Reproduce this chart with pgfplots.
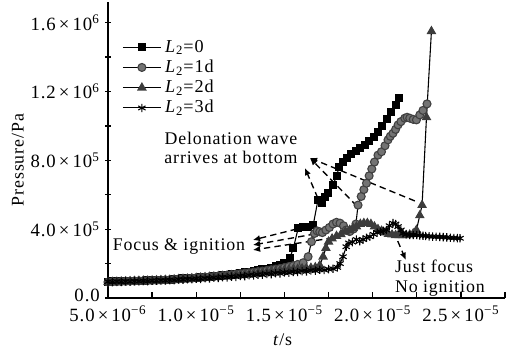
\documentclass[border=0pt]{standalone}
\usepackage{fontspec}
\setmainfont{Liberation Serif}[LetterSpace=5]
\usepackage{pgfplots}
\pgfplotsset{compat=1.18}
\usetikzlibrary{arrows.meta}
\definecolor{circfill}{RGB}{115,115,115}
\definecolor{trifill}{RGB}{60,60,60}
\begin{document}
\begin{tikzpicture}[font=\fontsize{9.8}{10.5}\selectfont]
\begin{axis}[
  name=ax,
  scale only axis, width=218.35pt, height=162.8pt,
  xmin=5, xmax=27.5, ymin=0, ymax=17.2,
  clip=false,
  axis x line=bottom, axis y line=left,
  axis line style={-, line width=0.8pt},
  every axis x label/.style={at={(axis description cs:0.44,-0.142)}, anchor=center},
  every axis y label/.style={at={(axis description cs:-0.227,0.466)}, anchor=center, rotate=90},
  xlabel={\textit{t}/s},
  ylabel={Pressure/Pa},
  xtick={5,10,15,20,25}, minor xtick={7.5,12.5,17.5,22.5,27.5},
  xticklabels={5.0\,×\,10\textsuperscript{−6}, 1.0\,×\,10\textsuperscript{−5}, 1.5\,×\,10\textsuperscript{−5}, 2.0\,×\,10\textsuperscript{−5}, 2.5\,×\,10\textsuperscript{−5}},
  ytick={0,4,8,12,16}, minor ytick={2,6,10,14},
  yticklabels={\raisebox{2.5pt}{0.0}, 4.0\,×\,10\textsuperscript{5}, 8.0\,×\,10\textsuperscript{5}, 1.2\,×\,10\textsuperscript{6}, 1.6\,×\,10\textsuperscript{6}},
  tick align=inside,
  major tick length=3.2pt, minor tick length=3.2pt,
  tick style={black, line width=0.7pt},
  y tick style={xshift=-1.6pt},
  tick label style={font=\fontsize{10.3}{11}\selectfont},
  xticklabel style={yshift=-1pt},
  yticklabel style={xshift=-1pt},
  legend style={at={(0.035,0.885)}, anchor=north west, draw=none, fill=none, inner sep=0pt, row sep=-1.3pt, font=\fontsize{10}{10.5}\selectfont},
  legend cell align=left,
  legend image code/.code={\draw[mark repeat=2,mark phase=2,#1] plot coordinates {(0pt,0pt)(10.5pt,0pt)(21pt,0pt)};},
]
\addplot[black, line width=0.6pt, mark=square*, mark size=1.9pt, mark options={solid, fill=black}] coordinates {
(5.0,0.95)(5.25,0.96)(5.5,0.96)(5.75,0.97)(6.0,0.98)(6.25,0.99)(6.5,1.0)(6.75,1.0)(7.0,1.01)(7.25,1.02)(7.5,1.03)(7.75,1.04)(8.0,1.05)(8.25,1.06)(8.5,1.07)(8.75,1.09)(9.0,1.12)(9.25,1.14)(9.5,1.15)(9.75,1.16)(10.0,1.18)(10.25,1.2)(10.5,1.22)(10.75,1.24)(11.0,1.26)(11.25,1.28)(11.5,1.31)(11.75,1.34)(12.0,1.37)(12.25,1.41)(12.5,1.45)(12.75,1.49)(13.0,1.53)(13.25,1.57)(13.5,1.61)(13.75,1.66)(14.0,1.71)(14.25,1.77)(14.5,1.84)(14.75,1.92)(15.0,2.02)(15.3,2.31)(15.5,2.89)(15.78,4.05)(16.05,4.12)(16.33,4.15)(16.63,4.24)(16.9,5.7)(17.1,5.5)(17.3,5.85)(17.48,6.09)(17.76,6.57)(17.95,7.1)(18.1,7.6)(18.3,7.9)(18.55,8.15)(18.8,8.35)(19.05,8.55)(19.3,8.7)(19.55,8.9)(19.8,9.1)(20.05,9.35)(20.3,9.65)(20.55,10.0)(20.8,10.4)(21.05,10.8)(21.3,11.2)(21.5,11.6)
};
\addlegendentry{\textit{L}\textsubscript{2}=0}
\addplot[black, line width=0.6pt, mark=*, mark size=2.2pt, mark options={solid, fill=circfill, draw=black!75}] coordinates {
(5.0,0.93)(5.25,0.94)(5.5,0.95)(5.75,0.96)(6.0,0.97)(6.25,0.98)(6.5,0.99)(6.75,1.0)(7.0,1.0)(7.25,1.01)(7.5,1.02)(7.75,1.03)(8.0,1.04)(8.25,1.05)(8.5,1.06)(8.75,1.08)(9.0,1.1)(9.25,1.12)(9.5,1.13)(9.75,1.15)(10.0,1.17)(10.25,1.19)(10.5,1.21)(10.75,1.23)(11.0,1.25)(11.25,1.27)(11.5,1.3)(11.75,1.32)(12.0,1.35)(12.25,1.38)(12.5,1.41)(12.75,1.44)(13.0,1.47)(13.25,1.5)(13.5,1.53)(13.75,1.56)(14.0,1.6)(14.25,1.64)(14.5,1.68)(14.75,1.72)(15.0,1.77)(15.25,1.83)(15.5,1.88)(15.75,1.95)(16.06,2.05)(16.34,2.4)(16.53,3.27)(16.7,3.75)(16.85,3.9)(17.0,3.85)(17.15,3.8)(17.35,3.95)(17.55,4.1)(17.75,4.3)(17.95,4.4)(18.15,4.35)(18.35,4.2)(18.5,3.95)(18.7,3.86)(18.9,4.0)(19.05,4.3)(19.17,5.4)(19.35,5.9)(19.5,6.3)(19.65,6.67)(19.8,7.1)(19.95,7.5)(20.1,7.9)(20.3,8.3)(20.5,8.5)(20.7,8.85)(20.87,9.19)(21.0,9.4)(21.15,9.57)(21.3,9.8)(21.44,10.06)(21.6,10.25)(21.82,10.45)(21.95,10.5)(22.1,10.45)(22.3,10.38)(22.48,10.35)(22.67,10.64)(22.85,10.9)(23.08,11.28)
};
\addlegendentry{\textit{L}\textsubscript{2}=1d}
\addplot[black, line width=0.6pt, mark=triangle*, mark size=2.5pt, mark options={solid, fill=trifill, draw=trifill}] coordinates {
(5.0,0.92)(5.25,0.93)(5.5,0.94)(5.75,0.95)(6.0,0.96)(6.25,0.97)(6.5,0.98)(6.75,0.99)(7.0,1.0)(7.25,1.0)(7.5,1.01)(7.75,1.02)(8.0,1.03)(8.25,1.04)(8.5,1.05)(8.75,1.07)(9.0,1.09)(9.25,1.11)(9.5,1.12)(9.75,1.14)(10.0,1.16)(10.25,1.18)(10.5,1.2)(10.75,1.22)(11.0,1.24)(11.25,1.26)(11.5,1.28)(11.75,1.3)(12.0,1.32)(12.25,1.34)(12.5,1.36)(12.75,1.38)(13.0,1.4)(13.25,1.42)(13.5,1.45)(13.75,1.48)(14.0,1.51)(14.25,1.54)(14.5,1.57)(14.75,1.6)(15.0,1.63)(15.25,1.65)(15.5,1.67)(15.75,1.69)(16.0,1.71)(16.25,1.73)(16.5,1.75)(16.75,1.78)(17.0,1.9)(17.19,2.4)(17.35,2.9)(17.5,3.27)(17.7,3.45)(17.95,3.6)(18.2,3.7)(18.45,3.85)(18.7,3.95)(18.9,4.05)(19.08,4.15)(19.3,4.3)(19.5,4.35)(19.7,4.35)(19.9,4.3)(20.1,4.15)(20.3,4.0)(20.5,3.9)(20.7,3.8)(20.9,3.72)(21.1,3.68)(21.3,3.65)(21.5,3.65)(21.7,3.65)(21.9,3.65)(22.1,3.68)(22.3,3.75)(22.48,3.95)(22.67,4.8)(22.8,5.4)(23.05,10.5)(23.33,15.5)
};
\addlegendentry{\textit{L}\textsubscript{2}=2d}
\addplot[black, line width=0.6pt, mark=asterisk, mark size=2.3pt, mark options={solid, line width=0.6pt}] coordinates {
(5.0,0.95)(5.25,0.93)(5.5,0.96)(5.75,0.94)(6.0,0.97)(6.25,0.95)(6.5,0.98)(6.75,0.97)(7.0,1.0)(7.25,0.98)(7.5,1.01)(7.75,1.0)(8.0,1.03)(8.25,1.02)(8.5,1.05)(8.75,1.04)(9.0,1.08)(9.25,1.07)(9.5,1.1)(9.75,1.09)(10.0,1.12)(10.25,1.11)(10.5,1.15)(10.75,1.14)(11.0,1.18)(11.25,1.17)(11.5,1.21)(11.75,1.2)(12.0,1.24)(12.25,1.23)(12.5,1.28)(12.75,1.27)(13.0,1.32)(13.25,1.31)(13.5,1.36)(13.75,1.35)(14.0,1.4)(14.25,1.39)(14.5,1.44)(14.75,1.43)(15.0,1.48)(15.25,1.47)(15.5,1.52)(15.75,1.51)(16.0,1.56)(16.25,1.55)(16.5,1.6)(16.75,1.59)(17.0,1.64)(17.25,1.63)(17.5,1.68)(17.75,1.7)(18.0,1.78)(18.15,2.0)(18.32,2.4)(18.5,2.98)(18.65,3.2)(18.85,3.25)(19.08,3.4)(19.27,3.3)(19.45,3.4)(19.65,3.5)(19.84,3.56)(20.05,3.7)(20.25,3.8)(20.45,3.85)(20.6,3.9)(20.78,3.95)(20.95,4.2)(21.15,4.35)(21.3,4.3)(21.44,4.15)(21.6,3.95)(21.72,3.76)(21.9,3.7)(22.1,3.66)(22.3,3.66)(22.5,3.66)(22.67,3.64)(22.85,3.62)(23.0,3.6)(23.2,3.58)(23.4,3.57)(23.6,3.56)(23.8,3.55)(24.0,3.54)(24.2,3.52)(24.4,3.5)(24.6,3.49)(24.8,3.48)(24.95,3.47)
};
\addlegendentry{\textit{L}\textsubscript{2}=3d}
% annotations
\node[align=center, font=\fontsize{9.8}{10.5}\selectfont] at (axis cs:11.97,8.72) {Delonation wave\\arrives at bottom};
\node[font=\fontsize{9.8}{10.5}\selectfont] at (axis cs:9.02,2.97) {Focus \& ignition};
\node[align=left, anchor=west, inner sep=0pt, font=\fontsize{9.8}{11.2}\selectfont] at (axis cs:21.25,1.16) {Just focus\\No ignition};
\begin{scope}[line width=0.75pt, dash pattern=on 3.5pt off 2.3pt, -{Latex[length=4pt,width=3.5pt]}]
\draw (axis cs:16.89,5.81) -- (axis cs:16.16,7.56);
\draw (axis cs:19.10,5.35) -- (axis cs:16.44,8.14);
\draw (axis cs:22.39,5.64) -- (axis cs:16.44,8.14);
\draw (axis cs:15.70,4.01) -- (axis cs:13.21,3.37);
\draw (axis cs:16.72,3.72) -- (axis cs:13.21,3.08);
\draw (axis cs:17.74,3.49) -- (axis cs:13.21,2.79);
\draw (axis cs:21.42,3.31) -- (axis cs:21.88,2.21);
\end{scope}
\end{axis}
\pgfresetboundingbox
\path ([xshift=-59.4pt,yshift=-29.15pt]ax.south west) rectangle ([xshift=223.3pt,yshift=163.9pt]ax.south west);
\end{tikzpicture}
\end{document}
